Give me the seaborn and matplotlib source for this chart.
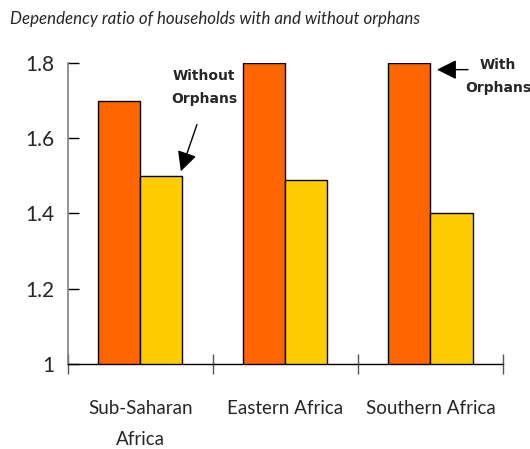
import pandas as pd
import matplotlib.pyplot as plt
import seaborn as sns

regions = ["Sub-Saharan\nAfrica", "Eastern Africa", "Southern Africa"]
with_orphans = [1.70, 1.80, 1.80]
without_orphans = [1.50, 1.49, 1.40]

df = pd.DataFrame({
    "region": regions * 2,
    "group": ["With Orphans"] * 3 + ["Without Orphans"] * 3,
    "ratio": with_orphans + without_orphans,
})

sns.set_style("white")
plt.rcParams["font.family"] = ["Lato", "DejaVu Sans"]

fig = plt.figure(figsize=(5.3, 4.49), dpi=100)
ax = fig.add_axes([0.128, 0.189, 0.821, 0.671])

sns.barplot(data=df, x="region", y="ratio", hue="group",
            palette=["#FF6600", "#FFCC00"], saturation=1, width=0.58,
            edgecolor="black", linewidth=1, legend=False, ax=ax)

ax.set_ylim(1, 1.8)
ax.set_xlim(-0.5, 2.5)
ax.set_yticks([1, 1.2, 1.4, 1.6, 1.8])
ax.set_yticklabels(["1", "1.2", "1.4", "1.6", "1.8"], fontsize=15)
ax.set_xlabel("")
ax.set_ylabel("")

# category labels without ticks, boundary ticks as minor
ax.tick_params(axis="x", which="major", bottom=False, labelsize=13.5, pad=22)
ax.set_xticks([-0.5, 0.5, 1.5, 2.5], minor=True)
ax.tick_params(axis="x", which="minor", bottom=True, direction="inout",
               length=14, width=1, color="#555555")
ax.tick_params(axis="y", left=True, direction="in", length=8, width=1,
               color="black", pad=10)
for lab in ax.get_xticklabels():
    lab.set_linespacing(2.0)
    lab.set_verticalalignment("top")

for side in ["top", "right"]:
    ax.spines[side].set_visible(False)
ax.spines["left"].set_color("#808080")
ax.spines["left"].set_linewidth(1.2)
ax.spines["bottom"].set_color("black")
ax.spines["bottom"].set_linewidth(1)

# annotations
ann_font = dict(family="DejaVu Sans", fontsize=10, fontweight="bold")
arrow = dict(arrowstyle="-|>,head_length=0.6,head_width=0.3", color="black", lw=1,
             mutation_scale=20, shrinkA=0, shrinkB=0)
ax.annotate("", xy=(0.279, 1.512), xytext=(0.39, 1.636), arrowprops=arrow)
ax.text(0.438, 1.734, "Without\nOrphans", ha="center", va="center",
        linespacing=1.8, **ann_font)
ax.annotate("", xy=(2.045, 1.782), xytext=(2.259, 1.782), arrowprops=arrow)
ax.text(2.465, 1.763, "With\nOrphans", ha="center", va="center",
        linespacing=1.8, clip_on=False, **ann_font)

fig.text(0.019, 0.958, "Dependency ratio of households with and without orphans",
         fontsize=12.2, fontstyle="italic", ha="left", va="center")

fig.savefig("out.png", dpi=100)
